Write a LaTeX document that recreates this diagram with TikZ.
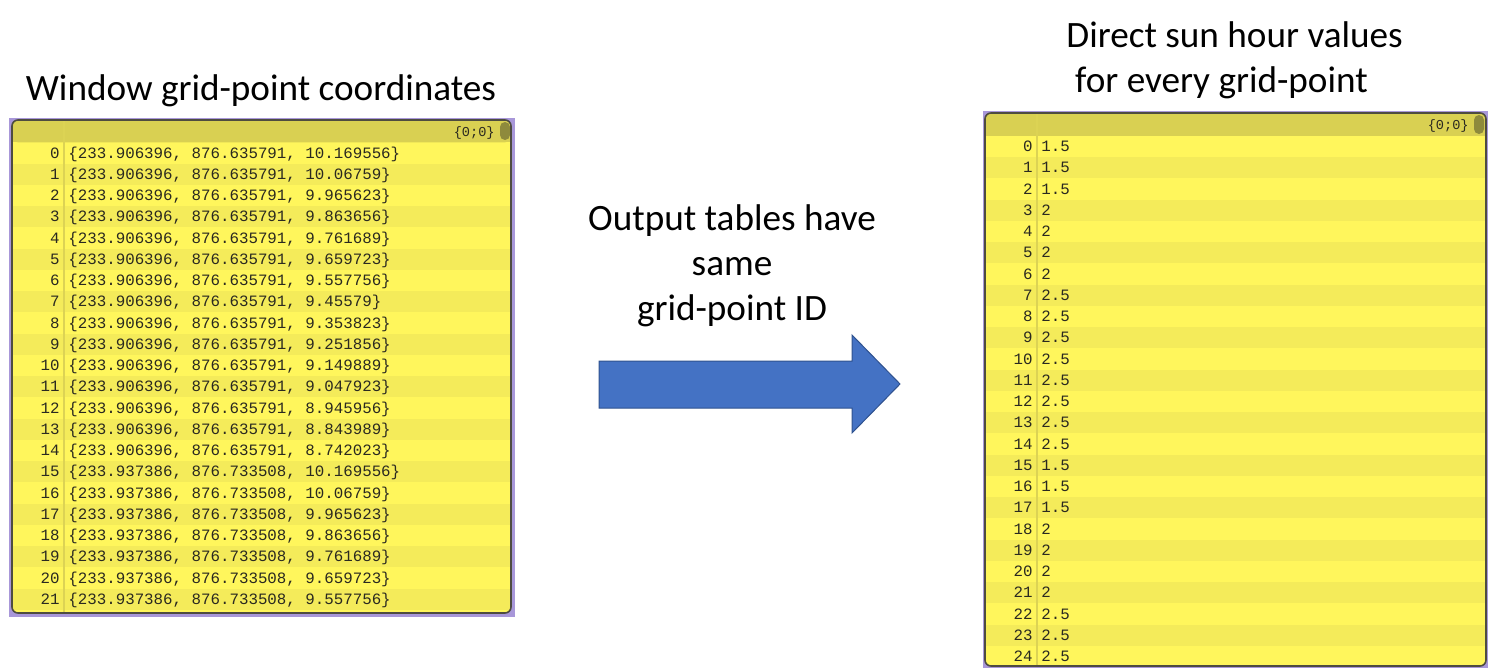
\documentclass[tikz,border=0pt]{standalone}
\usepackage{fontspec}
\setmainfont{Carlito}
\newfontfamily\gridfont{Liberation Mono}
\usetikzlibrary{positioning}

\definecolor{rowA}{HTML}{FFF65C}
\definecolor{rowB}{HTML}{F4EB5A}
\definecolor{headbar}{HTML}{D9D052}
\definecolor{colsep}{HTML}{DCD354}
\definecolor{frameline}{HTML}{A897D9}
\definecolor{panelborder}{HTML}{4E4C40}
\definecolor{gridtext}{HTML}{2A2920}
\definecolor{grip}{HTML}{8E8A3C}
\definecolor{arrowblue}{HTML}{4472C4}
\definecolor{arrowedge}{HTML}{2F528F}

\tikzset{
    title/.style={font=\fontsize{18.6}{22.5}\selectfont, inner sep=0pt},
    cell/.style={font=\gridfont\fontsize{7.9}{8}\selectfont, text=gridtext,
        inner sep=0pt, text height=5pt, text depth=0pt},
    idx/.style={cell, anchor=east},
    val/.style={cell, anchor=west},
    corner/.style={cell, font=\gridfont\fontsize{6.8}{7}\selectfont, anchor=east},
}

\begin{document}
\begin{tikzpicture}[x=0.5pt, y=-0.5pt]
    \useasboundingbox (0,0) rectangle (1489,669);

    % titles
    \node[title, anchor=base] (coordTitle) at (261,100) {Window grid-point coordinates};
    \node[title, anchor=base west, align=left] (sunTitle) at (1066,92)
        {Direct sun hour values\\\hspace*{4.4pt}for every grid-point};
    \node[title, anchor=base, align=center] (idText) at (732,320)
        {Output tables have\\same\\grid-point ID};

    % left panel: point list
    \fill[frameline] (9,118) rectangle (515,617);
    \fill[rowA, rounded corners=3] (12,120) rectangle (511,613);
    \foreach \i in {1,3,...,21}
        \fill[rowB] (13,142.3+21.25*\i) rectangle (510,163.55+21.25*\i);
    \fill[headbar, rounded corners=3] (12,120) rectangle (511,142.3);
    \fill[headbar] (12,132) rectangle (511,142.3);
    \draw[colsep, line width=1pt] (64,121) -- (64,612);
    \fill[grip, rounded corners=2.5] (500,122) rectangle (510,140);
    \node[corner] (coordCorner) at (495,131) {\{0;0\}};
    \draw[panelborder, line width=0.8pt, rounded corners=3] (12,120) rectangle (511,613);

    \foreach \z [count=\i from 0] in {10.169556,10.06759,9.965623,9.863656,9.761689,
            9.659723,9.557756,9.45579,9.353823,9.251856,9.149889,9.047923,8.945956,
            8.843989,8.742023}{
        \node[idx] (ci\i) at (60,153+21.25*\i) {\i};
        \node[val] (cv\i) at (68,153+21.25*\i) {\{233.906396, 876.635791, \z\}};
    }
    \foreach \z [count=\i from 15] in {10.169556,10.06759,9.965623,9.863656,9.761689,
            9.659723,9.557756}{
        \node[idx] (ci\i) at (60,153+21.25*\i) {\i};
        \node[val] (cv\i) at (68,153+21.25*\i) {\{233.937386, 876.733508, \z\}};
    }

    % right panel: sun hours
    \fill[frameline] (983,111) rectangle (1488,668);
    \fill[rowA, rounded corners=3] (985,113) rectangle (1486,666);
    \foreach \i in {1,3,...,23}
        \fill[rowB] (986,135.9+21.25*\i) rectangle (1485,157.15+21.25*\i);
    \fill[headbar, rounded corners=3] (985,113) rectangle (1486,135.9);
    \fill[headbar] (985,125) rectangle (1486,135.9);
    \draw[colsep, line width=1pt] (1037,114) -- (1037,665);
    \fill[grip, rounded corners=2.5] (1474,115) rectangle (1484,134);
    \node[corner] (sunCorner) at (1469,124) {\{0;0\}};
    \draw[panelborder, line width=0.8pt, rounded corners=3] (985,113) rectangle (1486,666);

    \foreach \h [count=\i from 0] in {1.5,1.5,1.5,2,2,2,2,2.5,2.5,2.5,2.5,2.5,2.5,2.5,2.5,
            1.5,1.5,1.5,2,2,2,2,2.5,2.5,2.5}{
        \node[idx] (si\i) at (1033,146.5+21.25*\i) {\i};
        \node[val] (sv\i) at (1041,146.5+21.25*\i) {\h};
    }

    % block arrow
    \filldraw[fill=arrowblue, draw=arrowedge, line width=0.5pt]
        (599,361) -- (852,361) -- (852,335) -- (900,384) -- (852,433)
        -- (852,408) -- (599,408) -- cycle;
\end{tikzpicture}
\end{document}
